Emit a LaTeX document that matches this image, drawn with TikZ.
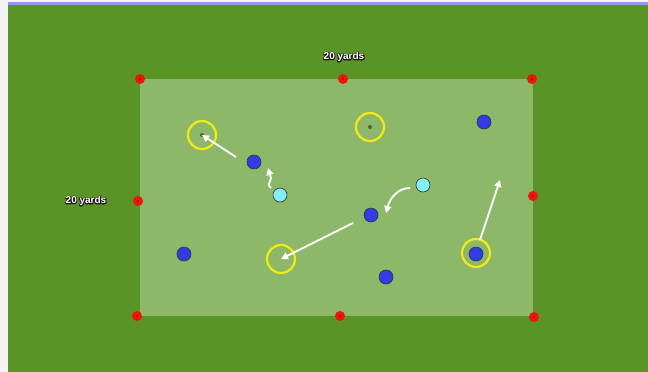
\documentclass[tikz,border=0pt]{standalone}
\usepackage{fontspec}
\setmainfont{Liberation Sans}
\usetikzlibrary{arrows.meta}
\definecolor{grass}{RGB}{90,148,38}
\definecolor{pitch}{RGB}{141,184,106}
\definecolor{cone}{RGB}{240,20,10}
\definecolor{ring}{RGB}{240,235,20}
\definecolor{att}{RGB}{50,60,230}
\definecolor{def}{RGB}{130,240,245}
\definecolor{edge}{RGB}{244,244,244}
\definecolor{topline}{RGB}{150,150,240}
\newcommand{\outlinedtext}[1]{%
  \rlap{\special{pdf:literal direct 1 Tr 1.8 w 1 j 0.1 0.1 0.1 RG}#1\special{pdf:literal direct 0 Tr}}#1}
\tikzset{
  conestyle/.style={circle,fill=cone,inner sep=0pt,minimum size=10pt},
  target/.style={circle,draw=ring,line width=2.2pt,inner sep=0pt,minimum size=28pt},
  attacker/.style={circle,draw=black!80,line width=0.6pt,fill=att,inner sep=0pt,minimum size=14pt},
  defender/.style={circle,draw=black!80,line width=0.6pt,fill=def,inner sep=0pt,minimum size=14pt},
  pass/.style={draw=white,line width=1.8pt,-{Triangle[width=7pt,length=7pt]}},
  yardlbl/.style={font=\bfseries\fontsize{10}{12}\selectfont,text=white,inner sep=1pt}
}
\begin{document}
\begin{tikzpicture}[x=1pt,y=-1pt]
\useasboundingbox (0,0) rectangle (648,372);
\fill[edge] (0,0) rectangle (648,372);
\fill[grass] (8,3) rectangle (648,372);
\fill[topline] (8,2) rectangle (648,4.5);
\fill[pitch] (140,79) rectangle (533,316);
% cones
\foreach \n/\x/\y in {c1/140/79,c2/343/79,c3/532/79,c4/138/201,c5/533/196,c6/137/316,c7/340/316,c8/534/317}{
  \node[conestyle] (\n) at (\x,\y) {};
  \fill[cone!65!black] (\n.center) circle (1.2pt);
}
% labels
\node[yardlbl] (topyd) at (344,57) {\outlinedtext{20 yards}};
\node[yardlbl] (leftyd) at (86,201) {\outlinedtext{20 yards}};
% targets
\node[target] (t1) at (202,135) {};
\node[target] (t2) at (370,127) {};
\node[target] (t3) at (281,259) {};
\node[target] (t4) at (476,253) {};
\fill[black!45!pitch] (t1.center) circle (2pt);
\fill[black!45!pitch] (t2.center) circle (2pt);
% players
\node[attacker] (a1) at (484,122) {};
\node[attacker] (a2) at (254,162) {};
\node[attacker] (a3) at (371,215) {};
\node[attacker] (a4) at (184,254) {};
\node[attacker] (a5) at (386,277) {};
\node[attacker] (a6) at (476,254) {};
\node[defender] (d1) at (280,195) {};
\node[defender] (d2) at (423,185) {};
% movement
\coordinate (e1) at (236,157);
\coordinate (e2) at (353,223);
\coordinate (e3) at (480,240);
\coordinate (m1) at (500,180);
\draw[pass] (e1) -- (t1.center);
\draw[pass] (e2) -- (t3.center);
\draw[pass] (e3) -- (m1);
\coordinate (w1) at (271,188);
\coordinate (w2) at (268,168);
\draw[pass] (w1) .. controls (265,183) and (274,180) .. (270,175) -- (w2);
\coordinate (s1) at (410,188);
\coordinate (s2) at (386,213);
\draw[pass] (s1) .. controls (398,188) and (390,198) .. (s2);
\end{tikzpicture}
\end{document}
